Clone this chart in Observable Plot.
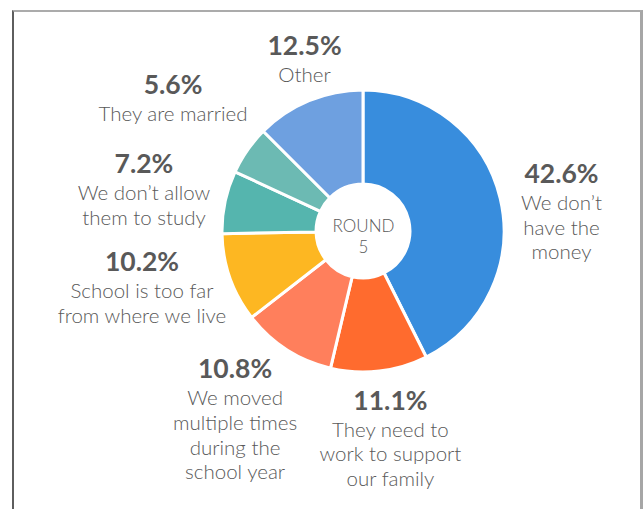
<!DOCTYPE html>
<html>
<head>
<meta charset="utf-8">
<script src="https://cdn.jsdelivr.net/npm/d3@7"></script>
<script src="https://cdn.jsdelivr.net/npm/@observablehq/plot@0.6"></script>
<style>
  html, body { margin: 0; padding: 0; background: #fff; }
  #wrap { position: relative; width: 643px; height: 509px; overflow: hidden; font-family: Lato, "Open Sans", sans-serif; }
  #wrap svg { position: absolute; left: 0; top: 0; }
  #frame { position: absolute; left: 12px; top: 10px; width: 626px; height: 540px;
           border-left: 2px solid #5e5e5e; border-top: 2px solid #ababab; border-right: 3px solid #a6a6a6; box-sizing: content-box; pointer-events: none; }
</style>
</head>
<body>
<div id="wrap"><div id="frame"></div></div>
<script>
// ---- data ----
const categories = [
  "We don’t\nhave the\nmoney",
  "They need to\nwork to support\nour family",
  "We moved\nmultiple times\nduring the\nschool year",
  "School is too far\nfrom where we live",
  "We don’t allow\nthem to study",
  "They are married",
  "Other"
];
const percents = [42.6, 11.1, 10.8, 10.2, 7.2, 5.6, 12.5];
const centerLabel = ["ROUND", "5"];

// ---- layout / style (kept apart from data) ----
const colors = ["#388ddd", "#ff6b2e", "#ff7f5c", "#fdb722", "#55b5ae", "#6cbab3", "#6ea0e0"];
// label anchors in units of outer radius relative to donut centre (y up)
const labelPos = [
  [1.404, 0.404],
  [0.191, -1.204],
  [-0.911, -0.982],
  [-1.571, -0.223],
  [-1.557, 0.475],
  [-1.351, 1.032],
  [-0.418, 1.312]
];
const W = 643, H = 509;
const cx = 363, cy = 231, R = 141, innerFrac = 0.333;

const rows = categories.map((c, i) => ({
  category: c, value: percents[i], color: colors[i],
  lx: labelPos[i][0], ly: labelPos[i][1],
  pct: percents[i].toFixed(1) + "%"
}));

const pie = d3.pie().sort(null).value(d => d.value)(rows);

function donut(index, scales, values, dimensions, context) {
  const x = scales.x, y = scales.y;
  const ox = x(0), oy = y(0);
  const k = x(1) - x(0);
  const arc = d3.arc().innerRadius(innerFrac * k).outerRadius(k);
  const g = d3.create("svg:g").attr("transform", `translate(${ox},${oy})`);
  g.selectAll("path").data(pie).join("path")
    .attr("d", arc)
    .attr("fill", d => d.data.color)
    .attr("stroke", "#fff")
    .attr("stroke-width", 3)
    .attr("stroke-linejoin", "round");
  return g.node();
}

const chart = Plot.plot({
  width: W, height: H,
  margin: 0,
  x: {domain: [-cx / R, (W - cx) / R], range: [0, W], axis: null},
  y: {domain: [-(H - cy) / R, cy / R], range: [H, 0], axis: null},
  style: {fontFamily: "Lato, 'Open Sans', sans-serif", background: "transparent"},
  marks: [
    donut,
    Plot.text(rows, {x: "lx", y: "ly", text: "pct", fontSize: 26.5, fontWeight: "bold",
      fill: "#595959", textAnchor: "middle", lineAnchor: "middle"}),
    Plot.text(rows, {x: "lx", y: "ly", text: "category", fontSize: 20.5, fontWeight: 300, fill: "#595959",
      textAnchor: "middle", lineAnchor: "top", lineHeight: 1.2, dy: 18}),
    Plot.text([centerLabel.join("\n")], {x: [0], y: [0], text: d => d, fontSize: 17, fontWeight: 300,
      fill: "#595959", textAnchor: "middle", lineAnchor: "middle", lineHeight: 1.22, dy: 4})
  ]
});
document.getElementById("wrap").insertBefore(chart, document.getElementById("frame"));
</script>
</body>
</html>
